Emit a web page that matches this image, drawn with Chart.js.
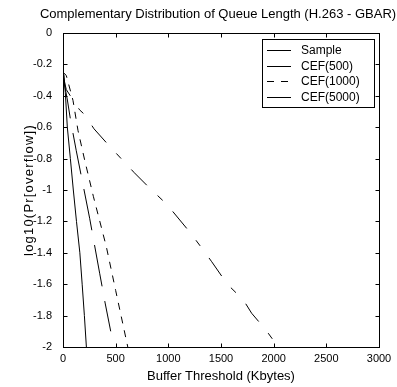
<!DOCTYPE html>
<html>
<head>
<meta charset="utf-8">
<script src="https://cdn.jsdelivr.net/npm/chart.js@4/dist/chart.umd.min.js"></script>
<style>
  html, body { margin: 0; padding: 0; background: #fff; }
  canvas { display: block; }
</style>
</head>
<body>
<canvas id="c" width="397" height="387"></canvas>
<script>
// Buffer thresholds (Kbytes) and log10 overflow probabilities for each curve
const sampleX = [0, 10, 22, 41, 70, 98, 128, 160, 182, 203, 222];
const sampleY = [-0.25, -0.27, -0.38, -0.6, -0.8, -1.0, -1.2, -1.4, -1.6, -1.8, -2.0];

const cef500X = [0, 40, 73, 126, 200, 253, 348, 400, 453];
const cef500Y = [-0.28, -0.42, -0.56, -0.75, -1.0, -1.18, -1.53, -1.72, -1.9];

const cef1000X = [0, 31, 95, 142, 206, 288, 411, 500, 615];
const cef1000Y = [-0.25, -0.27, -0.43, -0.62, -0.81, -1.04, -1.36, -1.64, -2.0];

const cef5000X = [0, 31, 79, 158, 206, 294, 427, 538, 677, 826, 984, 1206, 1329, 1412, 1560, 1712, 1791, 1924, 2044];
const cef5000Y = [-0.27, -0.36, -0.41, -0.49, -0.52, -0.61, -0.71, -0.79, -0.89, -0.99, -1.09, -1.27, -1.38, -1.457, -1.6, -1.7, -1.785, -1.89, -2.0];

const seriesNames = ['Sample', 'CEF(500)', 'CEF(1000)', 'CEF(5000)'];
const xTickLabels = ['0', '500', '1000', '1500', '2000', '2500', '3000'];
const yTickLabels = ['0', '-0.2', '-0.4', '-0.6', '-0.8', '-1', '-1.2', '-1.4', '-1.6', '-1.8', '-2'];
const chartTitle = 'Complementary Distribution of Queue Length (H.263 - GBAR)';
const yAxisTitle = 'log10(Pr[overflow])';

const FONT = "'Liberation Sans', Arial, Helvetica, sans-serif";

function pts(xs, ys) { return xs.map((x, i) => ({ x: x, y: ys[i] })); }

const lineStyles = [
  { dash: [] },
  { dash: [42, 15] },
  { dash: [7, 7] },
  { dash: [22, 15, 7, 15] }
];

const datasets = [
  pts(sampleX, sampleY), pts(cef500X, cef500Y), pts(cef1000X, cef1000Y), pts(cef5000X, cef5000Y)
].map((d, i) => ({
  label: seriesNames[i],
  data: d,
  showLine: true,
  borderColor: '#000',
  borderWidth: 1,
  borderDash: lineStyles[i].dash,
  pointRadius: 0,
  fill: false,
  tension: 0
}));

// Axes box, inward ticks on all four sides, captions and the boxed legend
const framePlugin = {
  id: 'frame',
  afterDatasetsDraw(chart) {
    const { ctx, chartArea: a, scales: { x, y } } = chart;
    ctx.save();
    ctx.strokeStyle = '#000';
    ctx.lineWidth = 1;
    ctx.setLineDash([]);
    const L = Math.round(a.left) + 0.5, R = Math.round(a.right) + 0.5;
    const T = Math.round(a.top) + 0.5, B = Math.round(a.bottom) + 0.5;
    ctx.strokeRect(L, T, R - L, B - T);
    const tl = 4;
    ctx.beginPath();
    x.ticks.forEach(t => {
      const px = Math.round(x.getPixelForValue(t.value)) + 0.5;
      ctx.moveTo(px, B); ctx.lineTo(px, B - tl);
      ctx.moveTo(px, T); ctx.lineTo(px, T + tl);
    });
    y.ticks.forEach(t => {
      const py = Math.round(y.getPixelForValue(t.value)) + 0.5;
      ctx.moveTo(L, py); ctx.lineTo(L + tl, py);
      ctx.moveTo(R, py); ctx.lineTo(R - tl, py);
    });
    ctx.stroke();

    ctx.fillStyle = '#000';

    // chart title, centred a little right of the canvas middle
    ctx.font = '13px ' + FONT;
    ctx.textAlign = 'center';
    ctx.textBaseline = 'middle';
    ctx.fillText(chartTitle, 218, 14);

    // y-axis caption, letter-spaced
    ctx.save();
    ctx.translate(29, (a.top + a.bottom) / 2);
    ctx.rotate(-Math.PI / 2);
    ctx.font = '13px ' + FONT;
    if ('letterSpacing' in ctx) ctx.letterSpacing = '1.2px';
    ctx.textAlign = 'center';
    ctx.textBaseline = 'middle';
    ctx.fillText(yAxisTitle, 0, 0);
    ctx.restore();

    // legend
    const bx = 262, by = 39, bw = 112, bh = 68;
    ctx.fillStyle = '#fff';
    ctx.fillRect(bx, by, bw, bh);
    ctx.strokeRect(bx + 0.5, by + 0.5, bw, bh);
    ctx.font = '12px ' + FONT;
    ctx.fillStyle = '#000';
    ctx.textBaseline = 'middle';
    ctx.textAlign = 'left';
    chart.data.datasets.forEach((ds, i) => {
      const yy = Math.round(by + 11 + i * 15.6) + 0.5;
      ctx.setLineDash(i === 2 ? [7, 7] : []);
      ctx.beginPath();
      ctx.moveTo(bx + 5, yy); ctx.lineTo(bx + 29, yy);
      ctx.stroke();
      ctx.fillText(ds.label, bx + 39, yy);
    });
    ctx.restore();
  }
};

new Chart(document.getElementById('c'), {
  type: 'scatter',
  data: { datasets: datasets },
  options: {
    responsive: false,
    animation: false,
    devicePixelRatio: 1,
    layout: { padding: { left: 0, right: 18, top: 33, bottom: 0 } },
    plugins: {
      legend: { display: false },
      tooltip: { enabled: false },
      title: { display: false }
    },
    scales: {
      x: {
        type: 'linear', min: 0, max: 3000,
        grid: { display: false, drawTicks: false },
        border: { display: false },
        ticks: {
          stepSize: 500, padding: 5, color: '#000',
          font: { family: FONT, size: 11 },
          maxRotation: 0,
          callback: (v) => xTickLabels[Math.round(v / 500)]
        },
        title: {
          display: true, text: 'Buffer Threshold (Kbytes)', color: '#000',
          font: { family: FONT, size: 13 }, padding: { top: 1, bottom: 3 }
        },
        afterFit(s) { s.height = 40; }
      },
      y: {
        type: 'linear', min: -2, max: 0,
        grid: { display: false, drawTicks: false },
        border: { display: false },
        ticks: {
          stepSize: 0.2, padding: 11, color: '#000',
          font: { family: FONT, size: 11 },
          callback: (v) => yTickLabels[Math.round(-v / 0.2)]
        },
        afterFit(s) { s.width = 63; }
      }
    }
  },
  plugins: [framePlugin]
});
</script>
</body>
</html>
